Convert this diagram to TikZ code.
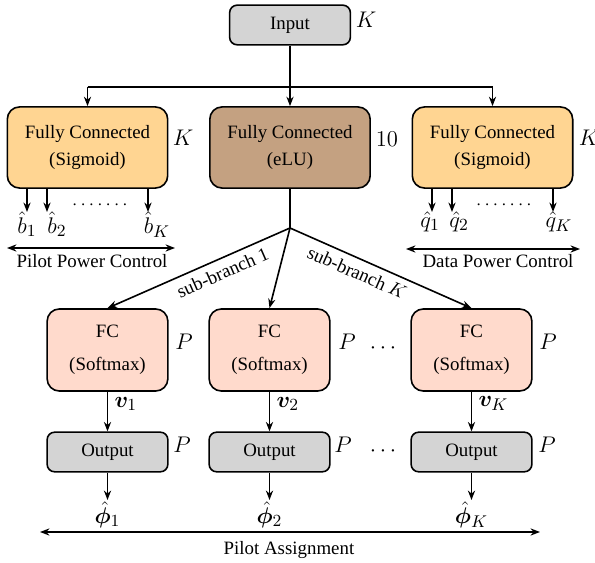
\documentclass[tikz,border=0pt]{standalone}
\usepackage{fontspec}
\setmainfont{Liberation Serif}
\usepackage{amsmath}
\usepackage{bm}
\usetikzlibrary{arrows.meta}
\DeclareMathSizes{11.5}{11.5}{9.5}{7.5}
\definecolor{grigio}{HTML}{D4D4D4}
\definecolor{arancio}{HTML}{FFD592}
\definecolor{marrone}{HTML}{C4A181}
\definecolor{rosa}{HTML}{FFDACC}

\begin{document}
\begin{tikzpicture}[x=0.53pt, y=-0.53pt, line width=0.85pt,
  >={Stealth[length=5pt, width=3.8pt]},
  blocco/.style={draw, rounded corners=6.5pt, align=center, minimum width=85pt, minimum height=43pt},
  piccolo/.style={draw, rounded corners=4pt, minimum width=64pt, minimum height=21pt},
  mat/.style={font=\fontsize{11.5}{13}\selectfont},
  uscita/.style={mat, anchor=north, inner sep=0.5pt}]
  \useasboundingbox (0,0) rectangle (595,563);
  % Input
  \node[piccolo, fill=grigio] (ingresso) at (290,25) {Input};
  \node[mat] (kIn) at (366,20) {$K$};
  % First layer
  \node[blocco, fill=arancio] (pwrL) at (87.5,147.5) {Fully Connected\\[2.3pt](Sigmoid)};
  \node[mat] (kL) at (183,138) {$K$};
  \node[blocco, fill=marrone] (feat) at (290,147.5) {Fully Connected\\[2.3pt](eLU)};
  \node[mat] (dieci) at (387,139) {$10$};
  \node[blocco, fill=arancio] (pwrR) at (492.5,147.5) {Fully Connected\\[2.3pt](Sigmoid)};
  \node[mat] (kR) at (589,138) {$K$};
  % Split from input
  \coordinate (diram) at (290,87);
  \draw[->] (ingresso) -- (feat);
  \draw (pwrL.north |- diram) -- (pwrR.north |- diram);
  \draw[->] (pwrL.north |- diram) -- (pwrL);
  \draw[->] (pwrR.north |- diram) -- (pwrR);
  % Pilot power outputs
  \foreach \n/\x/\lx/\t in {b1/27/27/{\hat{b}_1}, b2/47/57/{\hat{b}_2}, bK/148/157/{\hat{b}_K}} {
    \coordinate (\n t) at (\x,212);
    \node[uscita] (\n) at (\lx,210) {$\t$};
    \draw[->] (pwrL.south -| \n t) -- (\n t);
  }
  \node (puntiL) at (100,205) {${\cdot}\,{\cdot}\,{\cdot}\,{\cdot}\,{\cdot}\,{\cdot}\,{\cdot}$};
  \coordinate (ppcL) at (7,248);
  \coordinate (ppcR) at (175,248);
  \draw[<->] (ppcL) -- (ppcR);
  \node (ppc) at (92,261) {Pilot Power Control};
  % Data power outputs
  \foreach \n/\x/\lx/\t in {q1/432/430/{\hat{q}_1}, q2/452/459/{\hat{q}_2}, qK/553/559/{\hat{q}_K}} {
    \coordinate (\n t) at (\x,212);
    \node[uscita] (\n) at (\lx,210) {$\t$};
    \draw[->] (pwrR.south -| \n t) -- (\n t);
  }
  \node (puntiR) at (504,205) {${\cdot}\,{\cdot}\,{\cdot}\,{\cdot}\,{\cdot}\,{\cdot}\,{\cdot}$};
  \coordinate (dpcL) at (406,249);
  \coordinate (dpcR) at (580,249);
  \draw[<->] (dpcL) -- (dpcR);
  \node (dpc) at (498,261) {Data Power Control};
  % Sub-branches
  \node[blocco, fill=rosa, minimum width=64pt, minimum height=43.5pt] (fc1) at (107.5,350) {FC\\[5.5pt](Softmax)};
  \node[blocco, fill=rosa, minimum width=64pt, minimum height=43.5pt] (fc2) at (269.5,350) {FC\\[5.5pt](Softmax)};
  \node[blocco, fill=rosa, minimum width=64pt, minimum height=43.5pt] (fcK) at (471.5,350) {FC\\[5.5pt](Softmax)};
  \node[mat] (p1) at (184,342) {$P$};
  \node[mat] (p2) at (347,342) {$P$};
  \node[mat] (pK) at (548,342) {$P$};
  \node[mat] (puntiFC) at (385,348) {$\cdots$};
  \coordinate (hub) at (290,228);
  \draw (feat) -- (hub);
  \draw[->] (hub) -- (fc1.north) node[pos=0.4, below, sloped] {sub-branch 1};
  \draw[->] (hub) -- (fc2.north);
  \draw[->] (hub) -- (fcK.north) node[pos=0.4, below, sloped] {sub-branch $K$};
  % Output blocks
  \node[piccolo, fill=grigio] (out1) at (107.5,452) {Output};
  \node[piccolo, fill=grigio] (out2) at (269.5,452) {Output};
  \node[piccolo, fill=grigio] (outK) at (471.5,452) {Output};
  \node[mat] (po1) at (182,445) {$P$};
  \node[mat] (po2) at (343,445) {$P$};
  \node[mat] (poK) at (547,445) {$P$};
  \node[mat] (puntiOut) at (385,451) {$\cdots$};
  \draw[->] (fc1) -- (out1) node[mat, pos=0.3, right] {$\bm{v}_1$};
  \draw[->] (fc2) -- (out2) node[mat, pos=0.3, right] {$\bm{v}_2$};
  \draw[->] (fcK) -- (outK) node[mat, pos=0.3, right] {$\bm{v}_K$};
  % Pilot assignment
  \foreach \n/\s in {1/1, 2/2, K/K} {
    \node[uscita] (phi\n) at (out\n.south |- 0,500) {$\hat{\bm{\phi}}_{\s}$};
    \draw[->] (out\n) -- (phi\n.north);
  }
  \coordinate (paL) at (40,532);
  \coordinate (paR) at (540,532);
  \draw[<->] (paL) -- (paR);
  \node (pa) at (289,550) {Pilot Assignment};
\end{tikzpicture}
\end{document}
